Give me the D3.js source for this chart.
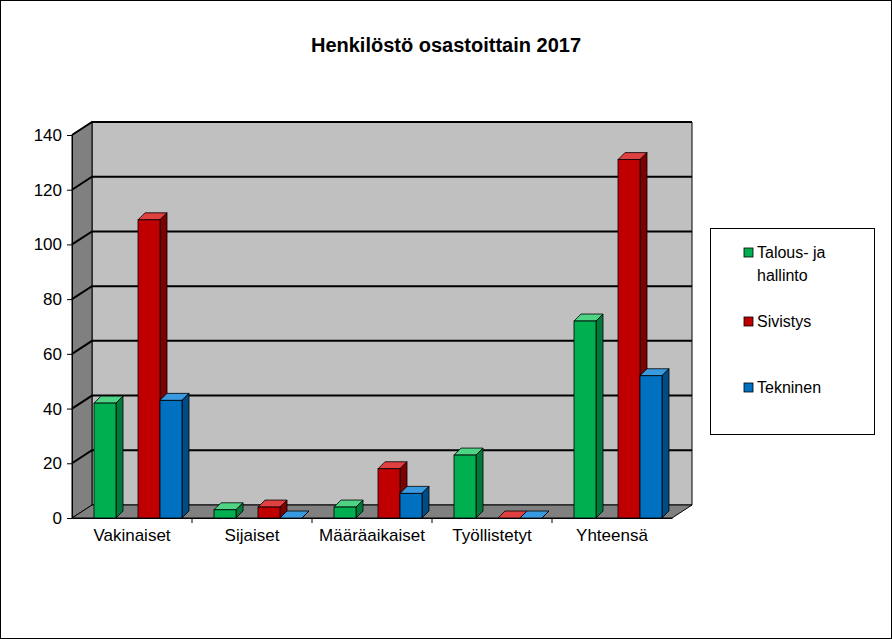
<!DOCTYPE html>
<html><head><meta charset="utf-8">
<script src="https://cdn.jsdelivr.net/npm/d3@7"></script>
<style>body{margin:0;background:#fff}text{font-family:Arial,"Liberation Sans",sans-serif}</style>
</head><body>
<svg id="chart" width="892" height="639"></svg>
<script>
const categories = ["Vakinaiset", "Sijaiset", "Määräaikaiset", "Työllistetyt", "Yhteensä"];
const seriesNames = ["Talous- ja hallinto", "Sivistys", "Tekninen"];
const talous = [42, 3, 4, 23, 72];
const sivistys = [109, 4, 18, 0, 131];
const tekninen = [43, 0, 9, 0, 52];
const yTicks = [0, 20, 40, 60, 80, 100, 120, 140];

const colors = [
  {front: "#00b050", top: "#4fd485", side: "#007a3a"},
  {front: "#c00000", top: "#e04040", side: "#800000"},
  {front: "#0070c0", top: "#3a9ae0", side: "#004c86"}
];
const svg = d3.select("#chart");
svg.append("rect").attr("x", 0.5).attr("y", 0.5).attr("width", 891).attr("height", 638)
  .attr("fill", "#fff").attr("stroke", "#000");

const x = d3.scaleBand().domain(categories).range([72, 672]);
const y = d3.scaleLinear().domain([0, 140]).range([518, 135]);
const wdx = 20, wdy = -13;   // wall depth
const bdx = 7, bdy = -7;     // bar depth

// walls
const x0 = 72, x1 = 672;
svg.append("polygon").attr("points", `${x0+wdx},${y(140)+wdy} ${x1+wdx},${y(140)+wdy} ${x1+wdx},${y(0)+wdy} ${x0+wdx},${y(0)+wdy}`)
  .attr("fill", "#c0c0c0").attr("stroke", "#000");
svg.append("polygon").attr("points", `${x0},${y(140)} ${x0+wdx},${y(140)+wdy} ${x0+wdx},${y(0)+wdy} ${x0},${y(0)}`)
  .attr("fill", "#808080").attr("stroke", "#000");
svg.append("polygon").attr("points", `${x0},${y(0)} ${x0+wdx},${y(0)+wdy} ${x1+wdx},${y(0)+wdy} ${x1},${y(0)}`)
  .attr("fill", "#808080").attr("stroke", "#000");

yTicks.forEach(t => {
  if (t > 0) {
    svg.append("polyline").attr("points", `${x0},${y(t)} ${x0+wdx},${y(t)+wdy} ${x1+wdx},${y(t)+wdy}`)
      .attr("fill", "none").attr("stroke", "#000").attr("stroke-width", 2);
  }
});

// axes
const yAxis = svg.append("g").attr("transform", `translate(${x0},0)`)
  .call(d3.axisLeft(y).tickValues(yTicks).tickSize(5).tickSizeOuter(0));
yAxis.select(".domain").attr("stroke", "#000");
yAxis.selectAll("text").attr("font-size", 17).attr("fill", "#000").attr("dx", -2);
const xAxis = svg.append("g").attr("transform", `translate(0,${y(0)})`)
  .call(d3.axisBottom(x).tickSize(0).tickSizeOuter(0));
xAxis.selectAll("text").attr("font-size", 17).attr("fill", "#000").attr("dy", 20);
xAxis.select(".domain").attr("stroke", "#000");
xAxis.selectAll(".sep").data(categories.slice(1)).enter().append("line")
  .attr("x1", d => x(d)).attr("x2", d => x(d)).attr("y1", 0).attr("y2", 5).attr("stroke", "#000");

// bars
const series = [talous, sivistys, tekninen];
const offsets = [22, 66, 88];
const bw = 22;
series.forEach((vals, s) => {
  const c = colors[s];
  vals.forEach((v, i) => {
    const bx = x(categories[i]) + offsets[s];
    const top = y(v), bot = y(0);
    const g = svg.append("g").attr("stroke", "#000").attr("stroke-width", 0.8);
    g.append("polygon").attr("points", `${bx},${top} ${bx+bdx},${top+bdy} ${bx+bw+bdx},${top+bdy} ${bx+bw},${top}`).attr("fill", c.top);
    g.append("polygon").attr("points", `${bx+bw},${top} ${bx+bw+bdx},${top+bdy} ${bx+bw+bdx},${bot+bdy} ${bx+bw},${bot}`).attr("fill", c.side);
    g.append("rect").attr("x", bx).attr("y", top).attr("width", bw).attr("height", bot - top).attr("fill", c.front);
  });
});

// title
svg.append("text").attr("x", 446).attr("y", 52).attr("text-anchor", "middle")
  .attr("font-size", 20).attr("font-weight", "bold").text("Henkilöstö osastoittain 2017");

// legend
svg.append("rect").attr("x", 710.5).attr("y", 228.5).attr("width", 164).attr("height", 206)
  .attr("fill", "#fff").attr("stroke", "#000");
const legendY = [253, 322, 388];
const legendLines = [["Talous- ja", "hallinto"], ["Sivistys"], ["Tekninen"]];
legendLines.forEach((lines, i) => {
  svg.append("rect").attr("x", 744).attr("y", legendY[i] - 5).attr("width", 9).attr("height", 9)
    .attr("fill", colors[i].front).attr("stroke", "#000").attr("stroke-width", 0.8);
  lines.forEach((l, j) => svg.append("text").attr("x", 757).attr("y", legendY[i] + 5 + j * 23)
    .attr("font-size", 16).text(l));
});
</script>
</body></html>
